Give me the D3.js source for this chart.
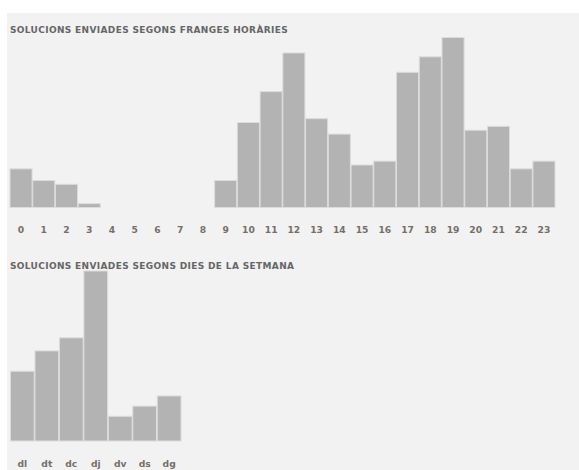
<!DOCTYPE html>
<html>
<head>
<meta charset="utf-8">
<script src="https://cdn.jsdelivr.net/npm/d3@7"></script>
<style>
  body { margin: 0; background: #fff; }
  text { font-family: "DejaVu Sans", Verdana, sans-serif; font-weight: bold; }
</style>
</head>
<body>
<div id="chart"></div>
<script>
// submissions per hour of day
const hours = d3.range(24).map(String);
const hourCounts = [10, 7, 6, 1, 0, 0, 0, 0, 0, 7, 22, 30, 40, 23, 19, 11, 12, 35, 39, 44, 20, 21, 10, 12];

// submissions per weekday
const days = ["dl", "dt", "dc", "dj", "dv", "ds", "dg"];
const dayCounts = [48, 62, 71, 117, 17, 24, 31];

const titles = ["SOLUCIONS ENVIADES SEGONS FRANGES HORÀRIES", "SOLUCIONS ENVIADES SEGONS DIES DE LA SETMANA"];

const W = 579, H = 470;
const svg = d3.select("#chart").append("svg")
    .attr("width", W)
    .attr("height", H);

svg.append("rect")
    .attr("x", 7).attr("y", 13)
    .attr("width", W - 7).attr("height", H - 13)
    .attr("fill", "#f2f2f2");

// one bar chart block; top = title baseline, base = bottom of the bars
function barBlock(title, cats, vals, top, base, x0, x1) {
    const g = svg.append("g");

    g.append("text")
        .attr("x", 10)
        .attr("y", top)
        .attr("fill", "#666")
        .style("font-size", "9px")
        .style("letter-spacing", "0.35px")
        .text(title);

    const x = d3.scaleBand()
        .domain(cats)
        .range([x0, x1])
        .paddingInner(0.03);

    const y = d3.scaleLinear()
        .domain([0, d3.max(vals)])
        .range([base, base - 170]);

    g.selectAll("rect.bar")
        .data(vals)
        .join("rect")
        .attr("class", "bar")
        .attr("x", (d, i) => x(cats[i]))
        .attr("y", d => y(d))
        .attr("width", x.bandwidth())
        .attr("height", d => base - y(d))
        .attr("fill", "#b3b3b3")
        .attr("stroke", "#dcdcdc")
        .attr("stroke-width", 1);

    const axis = g.append("g")
        .attr("transform", `translate(0,${base})`)
        .call(d3.axisBottom(x).tickSize(0).tickPadding(19));
    axis.select(".domain").remove();
    axis.selectAll("text")
        .attr("fill", "#766f69")
        .style("font-size", "9.2px")
        .style("font-family", "'DejaVu Sans', Verdana, sans-serif")
        .style("font-weight", "bold");
}

barBlock(titles[0], hours, hourCounts, 32.5, 207.5, 10, 555);
barBlock(titles[1], days, dayCounts, 268.5, 441, 10.5, 181);
</script>
</body>
</html>
